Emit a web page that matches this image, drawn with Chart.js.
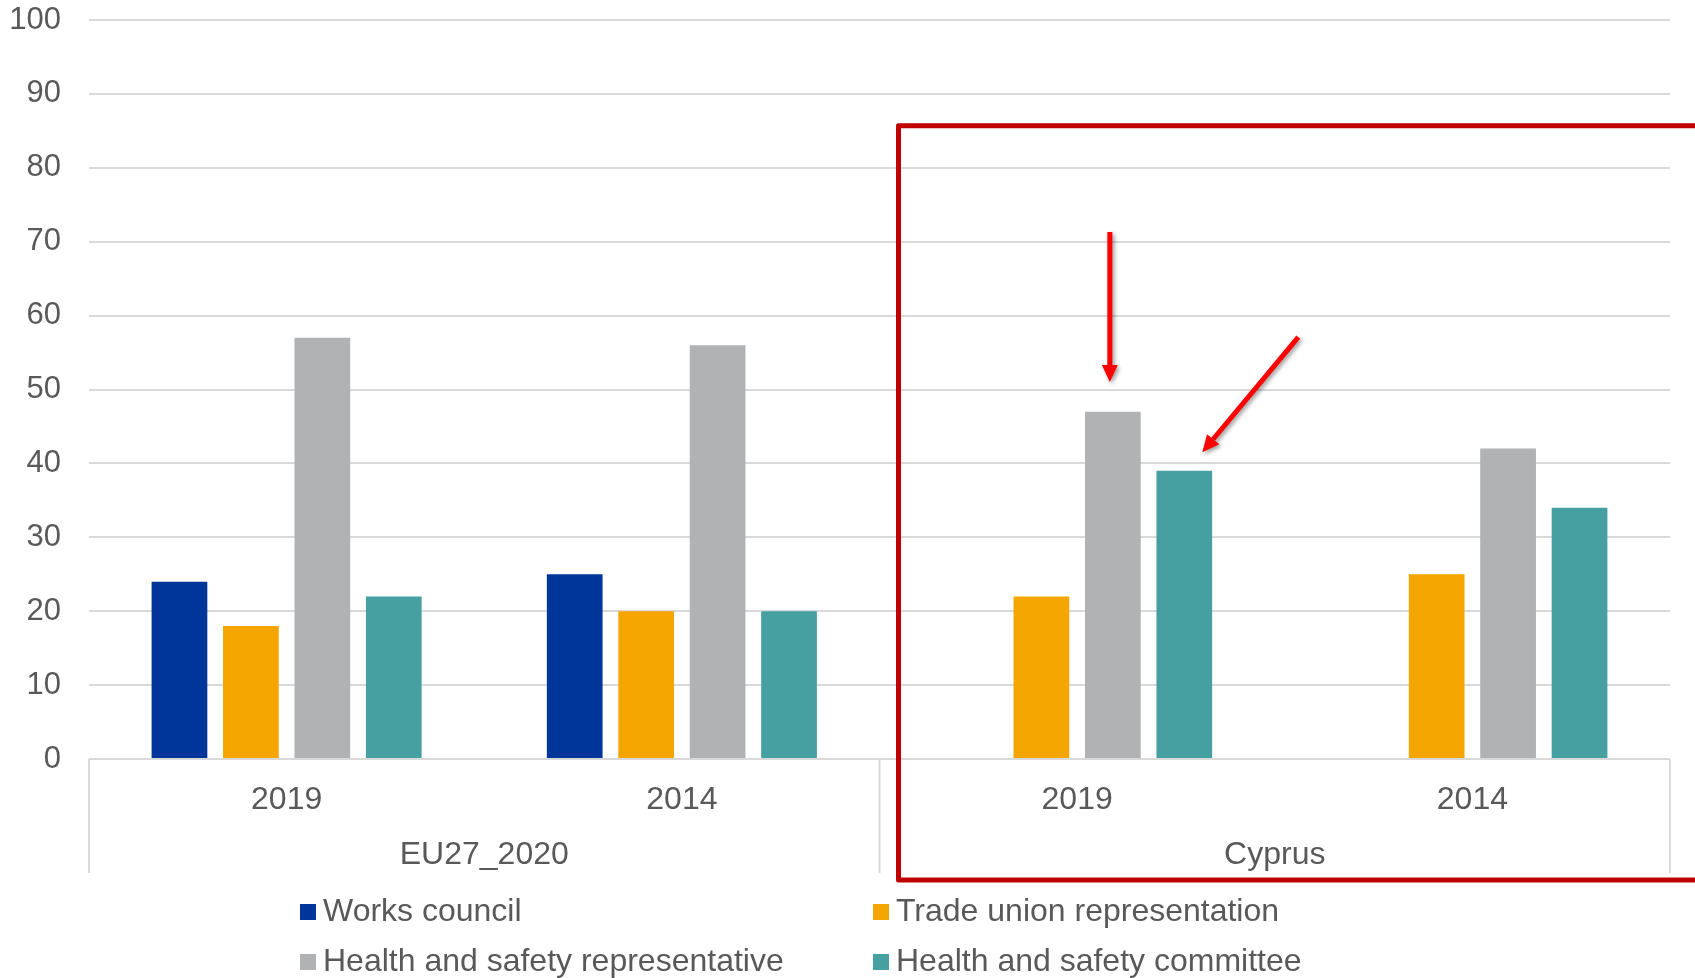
<!DOCTYPE html>
<html>
<head>
<meta charset="utf-8">
<script src="https://cdn.jsdelivr.net/npm/chart.js@4.4.0/dist/chart.umd.min.js"></script>
<style>
  html, body { margin: 0; padding: 0; background: #fff; }
</style>
</head>
<body>
<canvas id="myChart" width="1695" height="978"></canvas>
<script>
// data
const years = ["2019", "2014", "2019", "2014"];
const groups = ["EU27_2020", "Cyprus"];
const seriesNames = ["Works council", "Trade union representation", "Health and safety representative", "Health and safety committee"];
const worksCouncil = [24, 25, null, null];
const tradeUnion = [18, 20, 22, 25];
const hsRepresentative = [57, 56, 47, 42];
const hsCommittee = [22, 20, 39, 34];
const colors = ["#00359A", "#F5A500", "#B1B2B4", "#46A0A2"];

const FONT = "'Liberation Sans', Arial, sans-serif";
const TEXT = "#595959";

function arrow(c, x1, y1, x2, y2) {
  const ang = Math.atan2(y2 - y1, x2 - x1);
  const head = 17, half = 8;
  const bx = x2 - head * Math.cos(ang), by = y2 - head * Math.sin(ang);
  c.beginPath();
  c.moveTo(x1, y1);
  c.lineTo(bx, by);
  c.stroke();
  c.beginPath();
  c.moveTo(x2, y2);
  c.lineTo(bx + half * Math.sin(ang), by - half * Math.cos(ang));
  c.lineTo(bx - half * Math.sin(ang), by + half * Math.cos(ang));
  c.closePath();
  c.fill();
}

const extras = {
  id: "extras",
  afterDraw(chart) {
    const c = chart.ctx;
    const area = chart.chartArea;
    const xs = chart.scales.x;
    const ys = chart.scales.y;
    const mid = (xs.getPixelForValue(1) + xs.getPixelForValue(2)) / 2;
    c.save();

    // group separators under the axis
    c.strokeStyle = "#D9D9D9";
    c.lineWidth = 2;
    [area.left, mid, area.right].forEach(function (x) {
      c.beginPath();
      c.moveTo(x, area.bottom);
      c.lineTo(x, area.bottom + 114);
      c.stroke();
    });

    // group labels
    c.fillStyle = TEXT;
    c.font = "32px " + FONT;
    c.textAlign = "center";
    c.textBaseline = "middle";
    c.fillText(groups[0], (xs.getPixelForValue(0) + xs.getPixelForValue(1)) / 2, area.bottom + 96);
    c.fillText(groups[1], (xs.getPixelForValue(2) + xs.getPixelForValue(3)) / 2, area.bottom + 96);

    // legend, two columns
    c.font = "32px " + FONT;
    c.textAlign = "left";
    const cols = [300, 873];
    const rows = [912, 962];
    chart.data.datasets.forEach(function (ds, i) {
      const x = cols[i % 2], y = rows[Math.floor(i / 2)];
      c.fillStyle = ds.backgroundColor;
      c.fillRect(x, y - 8, 16, 16);
      c.fillStyle = TEXT;
      c.fillText(ds.label, x + 23, y);
    });

    // red highlight box
    const boxTop = ys.getPixelForValue(85.7);
    const boxLeft = mid + 19;
    c.strokeStyle = "#C00000";
    c.lineWidth = 5;
    c.lineJoin = "round";
    c.strokeRect(boxLeft, boxTop, chart.width + 20 - boxLeft, area.bottom + 121 - boxTop);

    // arrows
    const repBar = chart.getDatasetMeta(2).data[2];
    const comBar = chart.getDatasetMeta(3).data[2];
    c.strokeStyle = "#FF0000";
    c.fillStyle = "#FF0000";
    c.lineWidth = 5;
    c.lineCap = "butt";
    c.shadowColor = "rgba(0,0,0,0.4)";
    c.shadowBlur = 4;
    c.shadowOffsetX = 2;
    c.shadowOffsetY = 2;
    arrow(c, repBar.x - 3, ys.getPixelForValue(71.3), repBar.x - 3, ys.getPixelForValue(51));
    arrow(c, comBar.x + 114, ys.getPixelForValue(57.1), comBar.x + 18, ys.getPixelForValue(41.5));
    c.restore();
  }
};

const ctx = document.getElementById("myChart");

var chart = new Chart(ctx, {
  type: "bar",
  data: {
    labels: years,
    datasets: [
      { label: seriesNames[0], data: worksCouncil, backgroundColor: colors[0] },
      { label: seriesNames[1], data: tradeUnion, backgroundColor: colors[1] },
      { label: seriesNames[2], data: hsRepresentative, backgroundColor: colors[2] },
      { label: seriesNames[3], data: hsCommittee, backgroundColor: colors[3] },
    ],
  },
  options: {
    responsive: false,
    animation: false,
    categoryPercentage: 0.723,
    barPercentage: 0.78,
    layout: { padding: { top: 20, right: 25, left: 0, bottom: 0 } },
    plugins: {
      legend: { display: false },
      tooltip: { enabled: false },
    },
    scales: {
      x: {
        grid: { display: false },
        border: { display: false },
        ticks: { color: TEXT, font: { family: FONT, size: 32 }, padding: 14 },
        afterFit: function (scale) { scale.height = 219; },
      },
      y: {
        min: 0,
        max: 100,
        ticks: { stepSize: 10, color: TEXT, font: { family: FONT, size: 31 }, padding: 28 },
        grid: { color: "#D9D9D9", lineWidth: 2, drawTicks: false },
        border: { display: false },
        afterFit: function (scale) {
          scale.width = 89;
          scale.paddingTop = 0;
          scale.paddingBottom = 0;
        },
      },
    },
  },
  plugins: [extras],
});
</script>
</body>
</html>
